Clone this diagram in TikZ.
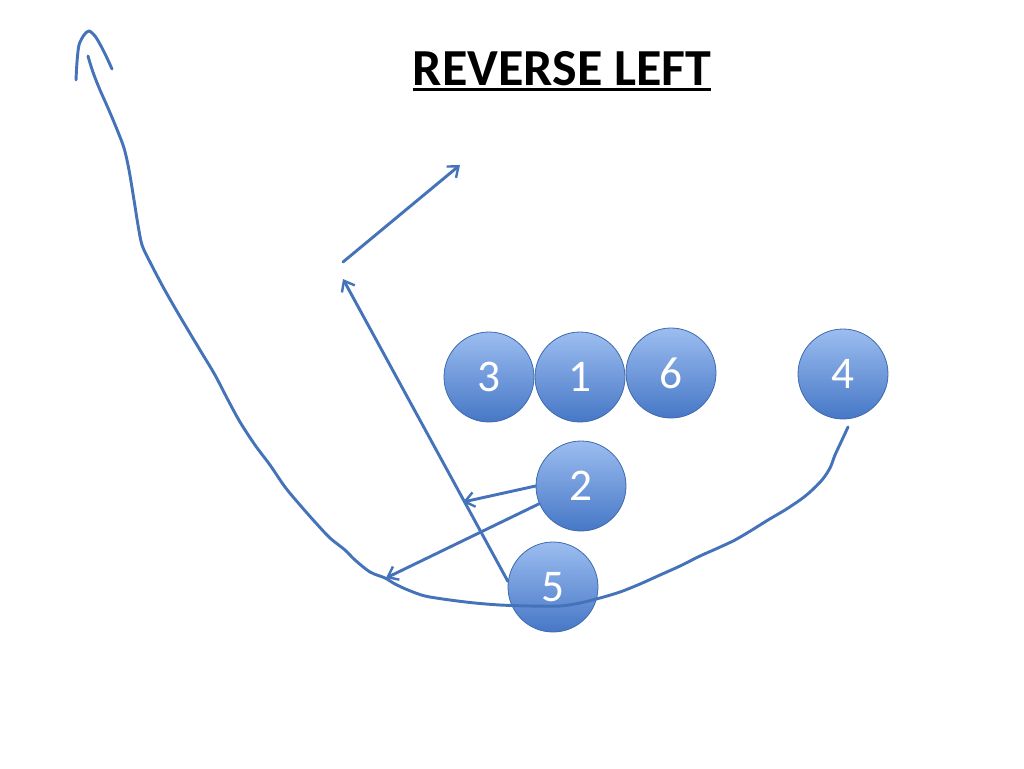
\documentclass[tikz,border=0pt]{standalone}
\usepackage{fontspec}
\setmainfont{Carlito}
\usetikzlibrary{arrows.meta}
\definecolor{lineblue}{HTML}{4573BA}
\definecolor{topblue}{HTML}{9CBDF0}
\definecolor{botblue}{HTML}{4677C6}
\definecolor{rimblue}{HTML}{3E6AAE}
\tikzset{
  player/.style={circle, minimum size=67.5pt, inner sep=0pt, draw=rimblue, line width=0.6pt,
    top color=topblue, bottom color=botblue, text=white, font=\fontsize{34}{34}\selectfont},
  route/.style={draw=lineblue, line width=2.2pt, line cap=round, line join=round},
  rarrow/.style={route, -{Straight Barb[length=7pt,width=11pt,line width=1.8pt]}},
}
\begin{document}
\begin{tikzpicture}[x=0.75pt,y=-0.75pt]
\useasboundingbox (0,0) rectangle (1024,768);
% title
\node[font=\fontsize{39}{39}\bfseries, inner sep=0pt, anchor=base] (t) at (562,85) {REVERSE LEFT};
\draw[line width=2.2pt] ([yshift=-3.5pt]t.base west) -- ([yshift=-3.5pt]t.base east);
% players
\node[player] (p3) at (489,377) {3};
\node[player] (p1) at (580,377) {1};
\node[player] (p6) at (671,373) {6};
\node[player] (p4) at (843,374) {4};
\node[player] (p2) at (581,486) {2};
\node[player] (p5) at (553,587) {5};
% coordinates
\coordinate (a1) at (343,279);
\coordinate (b0) at (343,262);
\coordinate (b1) at (460,165);
\coordinate (c1) at (463,502);
\coordinate (d1) at (386,578);
% routes
\draw[rarrow] (p5.173) -- (a1);
\draw[rarrow] (b0) -- (b1);
\draw[rarrow] (p2.180) -- (c1);
\draw[rarrow] (p2.203) -- (d1);
% long wiggly route from 4
\draw[route] plot[smooth, tension=0.5] coordinates {
 (848,427) (842,440) (835,455) (830,468) (822,480) (810,492) (800,500) (785,510) (768,520) (752,530)
 (735,540) (718,548) (700,556) (680,566) (660,575) (640,584) (620,592) (600,598) (580,603)
 (560,606) (530,606) (500,605) (475,603) (450,600) (425,596) (408,590) (395,584) (385,578)
 (370,572) (355,560) (345,550) (330,538) (315,522) (300,505) (285,487) (270,465) (255,445)
 (240,422) (228,400) (215,375) (200,350) (188,330) (175,308) (162,285) (150,262) (142,245)
 (138,225) (134,200) (129,170) (124,148) (116,127) (108,108) (100,90) (94,75) (90,63) (88,56)};
% hook at top
\draw[route] plot[smooth, tension=0.5] coordinates {
 (76,80) (77,62) (79,45) (84,35) (89,31) (95,36) (101,46) (107,58) (112,69)};
\end{tikzpicture}
\end{document}
